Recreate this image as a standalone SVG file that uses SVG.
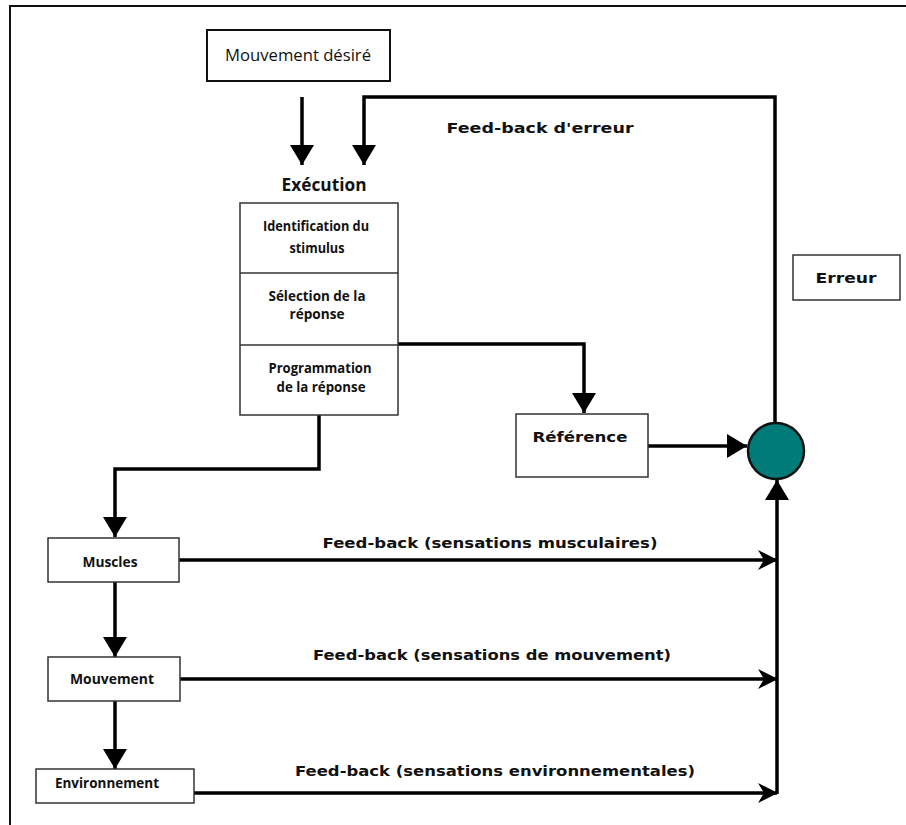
<svg xmlns="http://www.w3.org/2000/svg" width="906" height="825" viewBox="0 0 906 825">
<defs>
<style>
.box{fill:#fff;stroke:#333;stroke-width:1.5}
.box2{fill:#fff;stroke:#111;stroke-width:2}
.con{fill:none;stroke:#000;stroke-width:3.5}
.cal{font-family:"Open Sans","Liberation Sans",sans-serif;fill:#111;text-anchor:middle}
.calb{font-family:"Open Sans","Liberation Sans",sans-serif;font-weight:bold;fill:#111;text-anchor:middle}
.com{font-family:"DejaVu Sans","Liberation Sans",sans-serif;font-weight:bold;fill:#111;text-anchor:middle;font-size:14px}
</style>
<marker id="tri" markerUnits="userSpaceOnUse" markerWidth="24" markerHeight="24" viewBox="0 0 20 24" refX="20" refY="12" orient="auto">
<path d="M0,0 L20,12 L0,24 Z" fill="#000"/>
</marker>
<marker id="stealth" markerUnits="userSpaceOnUse" markerWidth="20" markerHeight="20" viewBox="0 0 20 20" refX="19" refY="10" orient="auto">
<path d="M0,0 L20,10 L0,20 L6,10 Z" fill="#000"/>
</marker>
</defs>
<rect width="906" height="825" fill="#fff"/>
<path d="M10,825 V6 H906" fill="none" stroke="#111" stroke-width="2"/>

<g id="connectors">
<path class="con" d="M302,97 V165" marker-end="url(#tri)"/>
<path class="con" d="M775,423 V97 H364 V165" marker-end="url(#tri)"/>
<path class="con" d="M398,344 H584 V413" marker-end="url(#tri)"/>
<path class="con" d="M648,446 H747" marker-end="url(#tri)"/>
<path class="con" d="M319,415 V469 H115 V537" marker-end="url(#tri)"/>
<path class="con" d="M115,582 V657" marker-end="url(#tri)"/>
<path class="con" d="M115,701 V769" marker-end="url(#tri)"/>
<path class="con" d="M179,560 H777" marker-end="url(#stealth)"/>
<path class="con" d="M180,679 H777" marker-end="url(#stealth)"/>
<path class="con" d="M194,793 H777" marker-end="url(#stealth)"/>
<path class="con" d="M777,794 V480" marker-end="url(#tri)"/>
<text class="com" x="540" y="133" textLength="187" lengthAdjust="spacingAndGlyphs">Feed-back d'erreur</text>
<text class="com" x="490" y="548" textLength="335" lengthAdjust="spacingAndGlyphs">Feed-back (sensations musculaires)</text>
<text class="com" x="492" y="660" textLength="358" lengthAdjust="spacingAndGlyphs">Feed-back (sensations de mouvement)</text>
<text class="com" x="495" y="776" textLength="400" lengthAdjust="spacingAndGlyphs">Feed-back (sensations environnementales)</text>
</g>

<g id="mouvement-desire">
<rect class="box2" x="207" y="30" width="183" height="51"/>
<text class="cal" x="298" y="61" font-size="16" textLength="146" lengthAdjust="spacingAndGlyphs">Mouvement désiré</text>
</g>

<g id="execution">
<text class="calb" x="324" y="191" font-size="17" textLength="85" lengthAdjust="spacingAndGlyphs">Exécution</text>
<rect class="box" x="240" y="203" width="158" height="212"/>
<line x1="240" y1="273" x2="398" y2="273" stroke="#333" stroke-width="1.5"/>
<line x1="240" y1="345" x2="398" y2="345" stroke="#333" stroke-width="1.5"/>
<text class="calb" x="316" y="231" font-size="14" textLength="106" lengthAdjust="spacingAndGlyphs">Identification du</text>
<text class="calb" x="317" y="253" font-size="14" textLength="55" lengthAdjust="spacingAndGlyphs">stimulus</text>
<text class="calb" x="317" y="301" font-size="14" textLength="97" lengthAdjust="spacingAndGlyphs">Sélection de la</text>
<text class="calb" x="317" y="319" font-size="14" textLength="55" lengthAdjust="spacingAndGlyphs">réponse</text>
<text class="calb" x="320" y="373" font-size="14" textLength="103" lengthAdjust="spacingAndGlyphs">Programmation</text>
<text class="calb" x="321" y="392" font-size="14" textLength="89" lengthAdjust="spacingAndGlyphs">de la réponse</text>
</g>

<g id="reference">
<rect class="box" x="516" y="414" width="132" height="63"/>
<text class="com" x="580" y="442" textLength="95" lengthAdjust="spacingAndGlyphs">Référence</text>
</g>

<g id="comparateur">
<circle cx="776" cy="451" r="28" fill="#007b78" stroke="#111" stroke-width="2.5"/>
</g>

<g id="erreur">
<rect class="box" x="793" y="255" width="107" height="45"/>
<text class="com" x="846" y="283" textLength="61" lengthAdjust="spacingAndGlyphs">Erreur</text>
</g>

<g id="muscles">
<rect class="box" x="48" y="538" width="131" height="44"/>
<text class="calb" x="110" y="567" font-size="14" textLength="55" lengthAdjust="spacingAndGlyphs">Muscles</text>
</g>

<g id="mouvement">
<rect class="box" x="48" y="657" width="132" height="44"/>
<text class="calb" x="112" y="684" font-size="14" textLength="84" lengthAdjust="spacingAndGlyphs">Mouvement</text>
</g>

<g id="environnement">
<rect class="box" x="36" y="769" width="158" height="34"/>
<text class="calb" x="107" y="788" font-size="14" textLength="104" lengthAdjust="spacingAndGlyphs">Environnement</text>
</g>
</svg>
